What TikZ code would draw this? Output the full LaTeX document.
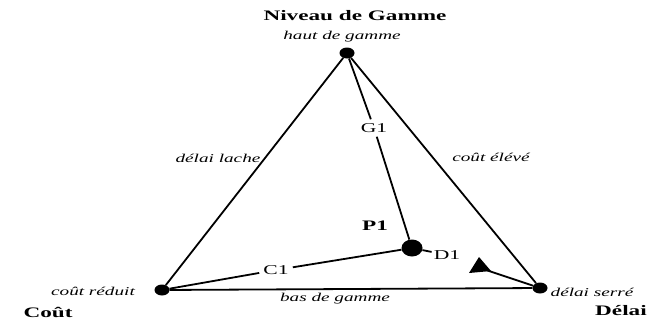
\documentclass[tikz,border=0pt]{standalone}
\usepackage{fontspec}
\setmainfont{Liberation Serif}[FakeStretch=1.6]
\usetikzlibrary{shapes.geometric}
\tikzstyle{corner} = [ellipse, fill, minimum width=15pt, minimum height=11pt, inner sep=0pt]
\tikzstyle{titre} = [font=\fontsize{14.5}{16}\selectfont\bfseries, inner sep=1pt]
\tikzstyle{pole} = [font=\fontsize{12}{14}\selectfont\itshape, inner sep=1pt]
\tikzstyle{repere} = [font=\fontsize{13.5}{15}\selectfont, inner sep=4pt]
\tikzstyle{side} = [line width=1.8pt]

\begin{document}
\begin{tikzpicture}[x=1pt,y=-1pt]
	\useasboundingbox (0,0) rectangle (655,324);
	% sommets
	\node[corner] (haut) at (347,53) {};
	\node[corner] (cout) at (162,290) {};
	\node[corner] (delai) at (540,288) {};
	\node[corner, minimum width=21pt, minimum height=17pt] (p1) at (412,248) {};
	% titres
	\node[titre] (tgamme) at (355,16) {Niveau de Gamme};
	\node[titre] (tcout) at (48,312) {Coût};
	\node[titre] (tdelai) at (621,311) {Délai};
	\node[titre] (tp1) at (375,226) {P1};
	% poles
	\node[pole] (lhaut) at (342,37) {haut de gamme};
	\node[pole] (lbas) at (335,299) {bas de gamme};
	\node[pole] (lreduit) at (93,291) {coût réduit};
	\node[pole] (lserre) at (592,292) {délai serré};
	\node[pole] (llache) at (218,158) {délai lache};
	\node[pole] (leleve) at (491,157) {coût élévé};
	% triangle
	\draw[side] (haut) -- (cout);
	\draw[side] (haut) -- (delai);
	\draw[side] (cout) -- (delai);
	% P1
	\node[repere] (g1) at (374,128) {G1};
	\node[repere] (c1) at (276,270) {C1};
	\node[repere, inner sep=2pt] (d1) at (447,255) {D1};
	\draw[side] (haut) -- (g1) -- (p1);
	\draw[side] (cout) -- (c1) -- (p1);
	\draw[side] (p1) -- (d1);
	\coordinate (pointe) at (486,270);
	\draw[side] (delai) -- (pointe);
	\fill (479,257) -- (469,273) -- (491,271) -- cycle;
\end{tikzpicture}
\end{document}
